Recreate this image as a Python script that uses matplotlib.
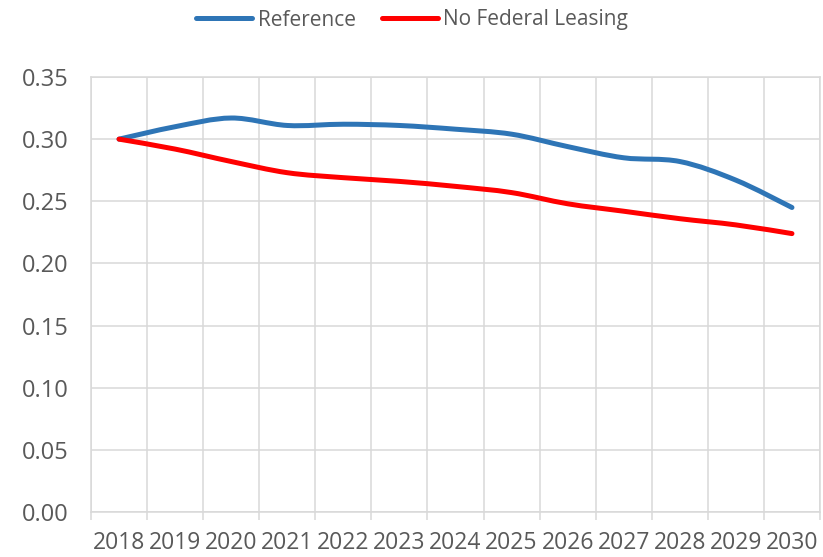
import numpy as np
import matplotlib
matplotlib.use('Agg')
import matplotlib.pyplot as plt
from matplotlib.path import Path
from matplotlib.patches import PathPatch
from matplotlib.lines import Line2D

###DATA
years = ['2018', '2019', '2020', '2021', '2022', '2023', '2024',
         '2025', '2026', '2027', '2028', '2029', '2030']
reference = [0.300, 0.310, 0.317, 0.311, 0.312, 0.311, 0.308,
             0.304, 0.294, 0.285, 0.282, 0.267, 0.245]
no_federal_leasing = [0.300, 0.292, 0.282, 0.273, 0.269, 0.266, 0.262,
                      0.257, 0.248, 0.242, 0.236, 0.231, 0.224]

BLUE = '#2E75B6'
RED = '#FF0000'
GRID = '#D9D9D9'
TEXT = '#595959'

plt.rcParams['font.family'] = ['Open Sans', 'DejaVu Sans']


###EXCEL-STYLE SMOOTHED LINE (bezier through the points)
def smooth_path(x, y):
    n = len(x)
    verts = [(x[0], y[0])]
    codes = [Path.MOVETO]
    for i in range(n - 1):
        xp, yp = (x[i - 1], y[i - 1]) if i > 0 else (x[i], y[i])
        xn, yn = (x[i + 2], y[i + 2]) if i + 2 < n else (x[i + 1], y[i + 1])
        c1 = (x[i] + (x[i + 1] - xp) / 6, y[i] + (y[i + 1] - yp) / 6)
        c2 = (x[i + 1] - (xn - x[i]) / 6, y[i + 1] - (yn - y[i]) / 6)
        verts += [c1, c2, (x[i + 1], y[i + 1])]
        codes += [Path.CURVE4] * 3
    return Path(verts, codes)


fig = plt.figure(figsize=(8.23, 5.57), dpi=100)
ax = fig.add_axes([91 / 823, 45 / 557, 729 / 823, 435 / 557])

xpos = np.arange(len(years))
for vals, col in [(reference, BLUE), (no_federal_leasing, RED)]:
    patch = PathPatch(smooth_path(xpos, vals), fill=False, edgecolor=col,
                      lw=3.6, capstyle='round', joinstyle='round', zorder=3)
    ax.add_patch(patch)

###AXES
ax.set_xlim(-0.5, len(years) - 0.5)
ax.set_ylim(0, 0.35)
ax.set_yticks(np.arange(0, 0.351, 0.05))
ax.set_yticklabels(['{:.2f}'.format(v) for v in np.arange(0, 0.351, 0.05)])
ax.set_xticks(np.arange(-0.5, len(years), 1.0))
ax.set_xticklabels([])
ax.set_xticks(xpos, minor=True)
ax.set_xticklabels(years, minor=True)

ax.tick_params(axis='y', length=0, pad=16, labelsize=17, labelcolor=TEXT)
ax.tick_params(axis='x', which='major', direction='out', length=6,
               width=1.1, color=GRID)
ax.tick_params(axis='x', which='minor', length=0, pad=14, labelsize=16.5,
               labelcolor=TEXT)

ax.grid(True, which='major', color=GRID, lw=1.1)
ax.set_axisbelow(True)
for s in ax.spines.values():
    s.set_color(GRID)
    s.set_linewidth(1.1)

###LEGEND
handles = [Line2D([], [], color=BLUE, lw=3.6, solid_capstyle='round'),
           Line2D([], [], color=RED, lw=3.6, solid_capstyle='round')]
fig.legend(handles, ['Reference', 'No Federal Leasing'], loc='center',
           bbox_to_anchor=(412 / 823, 1 - 20 / 557), ncol=2, frameon=False,
           fontsize=15, labelcolor=TEXT, handlelength=2.7,
           handletextpad=0.25, columnspacing=1.25, borderpad=0)

fig.savefig('out.png', dpi=100)
